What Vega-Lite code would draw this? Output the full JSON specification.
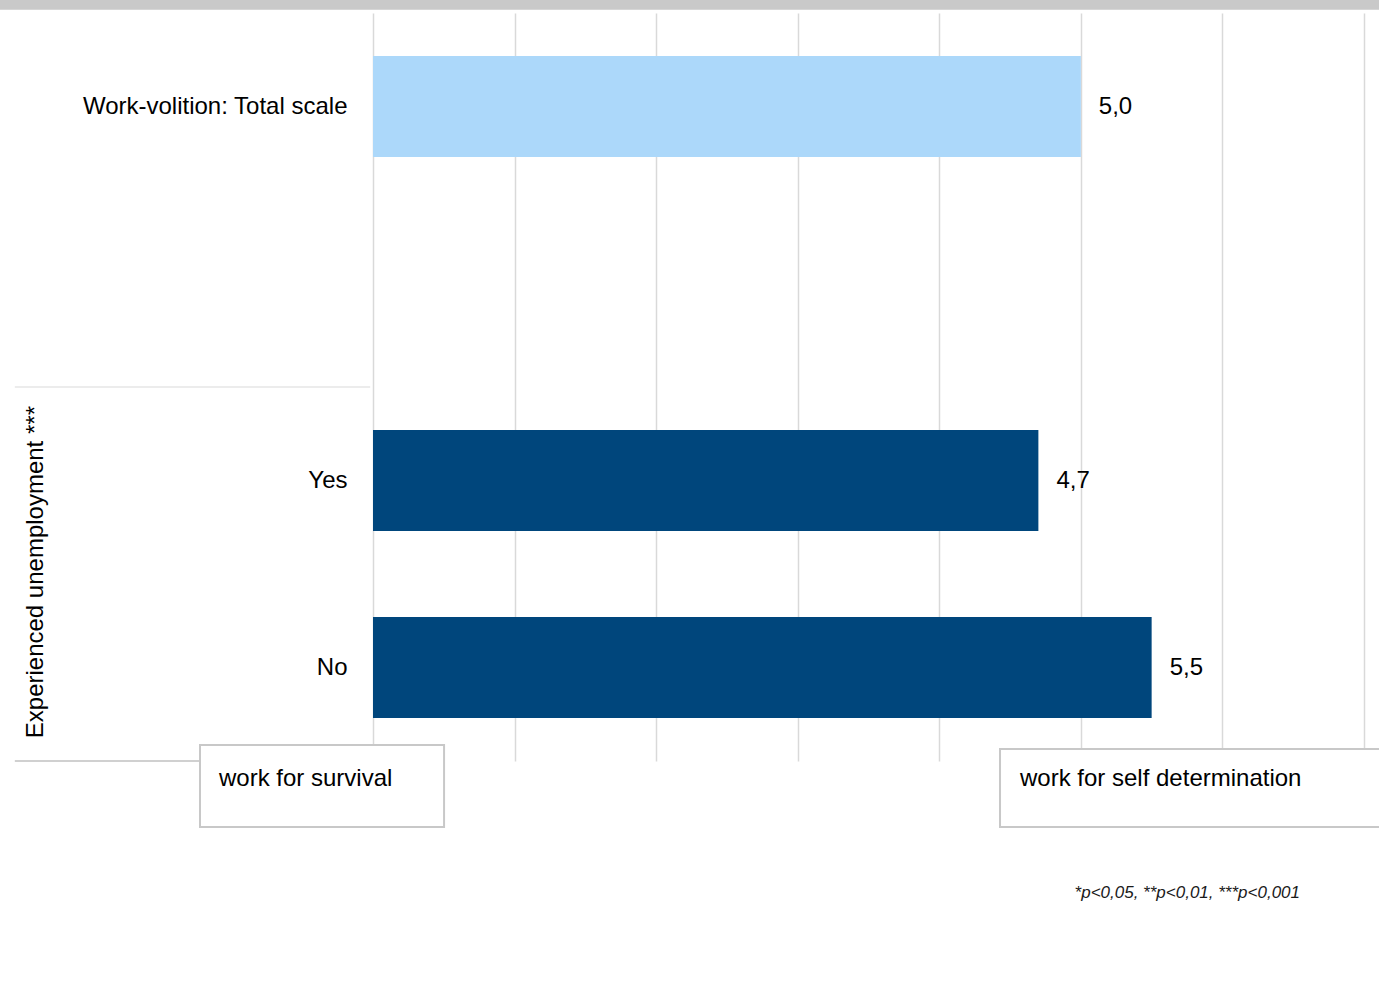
{
  "$schema": "https://vega.github.io/schema/vega-lite/v6.json",
  "width": 991,
  "height": 748,
  "autosize": {"type": "none"},
  "padding": {"left": 373, "top": 13, "right": 15, "bottom": 233},
  "background": "white",
  "config": {
    "view": {"stroke": null},
    "font": "Liberation Sans",
    "locale": {"number": {"decimal": ",", "thousands": ".", "grouping": [3], "currency": ["", " €"]}}
  },
  "data": {
    "values": [
      {"label": "Work-volition: Total scale", "value": 5.0, "type": "total"},
      {"label": "Yes", "value": 4.7, "type": "group"},
      {"label": "No", "value": 5.5, "type": "group"}
    ]
  },
  "layer": [
    {
      "layer": [
        {
          "mark": {"type": "bar"},
          "encoding": {
            "y": {
              "field": "label", "type": "nominal",
              "scale": {"domain": ["Work-volition: Total scale", " ", "Yes", "No"], "paddingInner": 0.46, "paddingOuter": 0.23},
              "axis": {"title": null, "ticks": false, "domain": false, "labelPadding": 26, "labelFontSize": 24, "labelColor": "black", "labelFont": "Liberation Sans", "labelLimit": 500}
            },
            "x": {
              "field": "value", "type": "quantitative",
              "scale": {"domain": [0, 7], "nice": false},
              "axis": {"values": [0, 1, 2, 3, 4, 5, 6, 7], "grid": true, "gridColor": "#d9d9d9", "gridWidth": 1.5, "labels": false, "ticks": false, "domain": false, "title": null}
            },
            "color": {"field": "type", "type": "nominal", "scale": {"domain": ["total", "group"], "range": ["#acd8fa", "#00467c"]}, "legend": null}
          }
        },
        {
          "mark": {"type": "text", "align": "left", "baseline": "middle", "dx": 18, "fontSize": 24, "color": "black", "font": "Liberation Sans"},
          "encoding": {
            "y": {"field": "label", "type": "nominal"},
            "x": {"field": "value", "type": "quantitative"},
            "text": {"field": "value", "type": "quantitative", "format": ".1f"}
          }
        }
      ]
    },
    {
      "data": {"values": [{}]},
      "layer": [
        {
          "mark": {"type": "rect", "fill": "#c9c9c9"},
          "encoding": {
            "x": {"datum": -2.7}, "x2": {"datum": 7.3},
            "y": {"datum": -0.575, "type": "quantitative", "scale": {"domain": [-0.5, 3.5], "reverse": true, "nice": false, "zero": false}, "axis": null},
            "y2": {"datum": -0.517}
          }
        },
        {
          "mark": {"type": "rule", "color": "#ececec", "strokeWidth": 2},
          "encoding": {
            "x": {"datum": -2.53}, "x2": {"datum": -0.02},
            "y": {"datum": 1.5, "type": "quantitative", "scale": {"domain": [-0.5, 3.5], "reverse": true, "nice": false, "zero": false}, "axis": null}
          }
        },
        {
          "mark": {"type": "rule", "color": "#d0d0d0", "strokeWidth": 2},
          "encoding": {
            "x": {"datum": -2.53}, "x2": {"datum": -0.02},
            "y": {"datum": 3.5, "type": "quantitative"}
          }
        },
        {
          "mark": {"type": "rect", "fill": "white", "stroke": "#c8c8c8", "strokeWidth": 2},
          "encoding": {
            "x": {"datum": -1.222}, "x2": {"datum": 0.502},
            "y": {"datum": 3.414, "type": "quantitative"}, "y2": {"datum": 3.853}
          }
        },
        {
          "mark": {"type": "rect", "fill": "white", "stroke": "#c8c8c8", "strokeWidth": 2},
          "encoding": {
            "x": {"datum": 4.429}, "x2": {"datum": 7.4},
            "y": {"datum": 3.436, "type": "quantitative"}, "y2": {"datum": 3.853}
          }
        },
        {
          "mark": {"type": "text", "align": "left", "baseline": "middle", "fontSize": 24, "color": "black", "text": "work for survival"},
          "encoding": {
            "x": {"datum": -1.088},
            "y": {"datum": 3.596, "type": "quantitative"}
          }
        },
        {
          "mark": {"type": "text", "align": "left", "baseline": "middle", "fontSize": 24, "color": "black", "text": "work for self determination"},
          "encoding": {
            "x": {"datum": 4.57},
            "y": {"datum": 3.596, "type": "quantitative"}
          }
        },
        {
          "mark": {"type": "text", "align": "center", "baseline": "middle", "angle": 270, "fontSize": 24, "color": "black", "text": "Experienced unemployment ***"},
          "encoding": {
            "x": {"datum": -2.38},
            "y": {"datum": 2.49, "type": "quantitative"}
          }
        },
        {
          "mark": {"type": "text", "align": "right", "baseline": "middle", "fontSize": 17, "fontStyle": "italic", "color": "#1a1a1a", "text": "*p<0,05, **p<0,01, ***p<0,001"},
          "encoding": {
            "x": {"datum": 6.548},
            "y": {"datum": 4.206, "type": "quantitative"}
          }
        }
      ]
    }
  ],
  "resolve": {"scale": {"y": "independent"}}
}
